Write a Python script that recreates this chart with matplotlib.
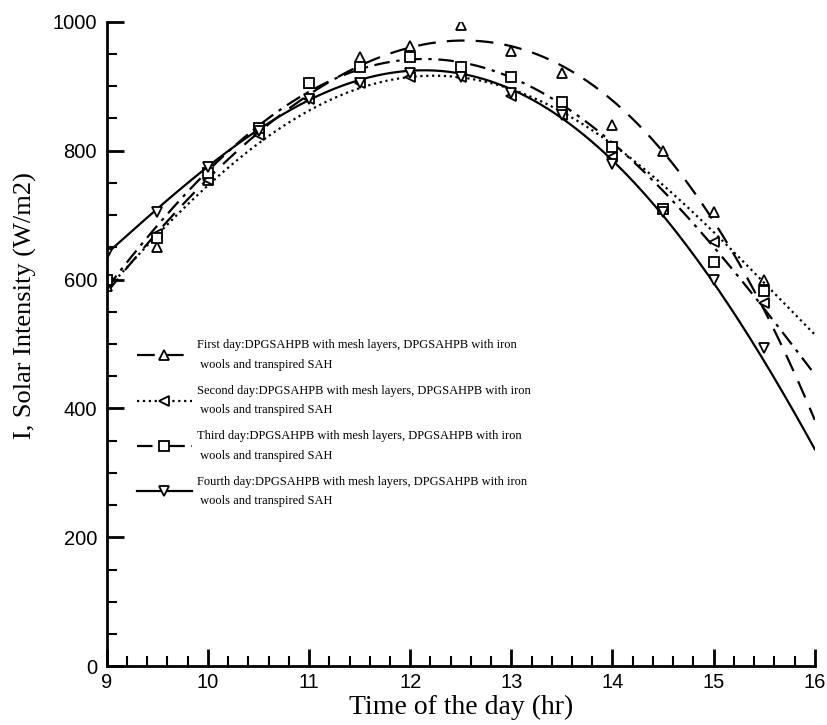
import numpy as np
import matplotlib
matplotlib.use('Agg')
import matplotlib.pyplot as plt

# hours of the day where readings were taken
hours = [9, 9.5, 10, 10.5, 11, 11.5, 12, 12.5, 13, 13.5, 14, 14.5, 15, 15.5]

day1 = [590, 650, 755, 830, 905, 945, 962, 995, 955, 920, 840, 800, 705, 600]
day2 = [600, 670, 755, 825, 880, 905, 915, 915, 885, 855, 790, 710, 658, 563]
day3 = [600, 665, 765, 835, 905, 930, 945, 930, 915, 875, 805, 710, 627, 582]
day4 = [640, 705, 775, 830, 880, 905, 920, 915, 890, 855, 780, 705, 599, 494]

# trend curves of the figure, read every half hour from 9 to 16 h
curve_hours = [9, 9.5, 10, 10.5, 11, 11.5, 12, 12.5, 13, 13.5, 14, 14.5, 15, 15.5, 16]
curve1 = [585, 665, 755, 830, 890, 935, 960, 970, 960, 932, 873, 800, 690, 560, 378]
curve2 = [590, 660, 745, 815, 865, 900, 912, 912, 895, 860, 810, 745, 670, 605, 510]
curve3 = [590, 680, 765, 840, 895, 930, 940, 935, 912, 870, 815, 735, 650, 560, 450]
curve4 = [640, 710, 775, 835, 880, 910, 920, 915, 895, 855, 790, 700, 590, 470, 340]

tail = " with mesh layers, DPGSAHPB with iron\n wools and transpired SAH"
labels = ["First day:DPGSAHPB" + tail,
          "Second day:DPGSAHPB" + tail,
          "Third day:DPGSAHPB" + tail,
          "Fourth day:DPGSAHPB" + tail]

styles = [((0, (8, 5)), '^'),
          (':', '<'),
          ((0, (7, 3, 1.5, 3)), 's'),
          ('-', 'v')]

fig = plt.figure(figsize=(8.28, 7.25), dpi=100)
ax = fig.add_axes([0.129, 0.081, 0.855, 0.889])

xs = np.linspace(9, 16, 200)
for y, c, lab, (ls, mk) in zip([day1, day2, day3, day4],
                               [curve1, curve2, curve3, curve4], labels, styles):
    # smooth the read-off curve with a 4th order polynomial
    coef = np.polyfit(curve_hours, c, 4)
    ax.plot(xs, np.polyval(coef, xs), color='black', ls=ls, lw=1.6)
    ax.plot(hours, y, ls='none', marker=mk, ms=7.5, mfc='white', mec='black', mew=1.3)
    ax.plot([], [], color='black', ls=ls, lw=1.6, marker=mk, ms=7.5,
            mfc='white', mec='black', mew=1.3, label=lab)

ax.set_xlim(9, 16)
ax.set_ylim(0, 1000)
ax.set_xticks(range(9, 17))
ax.set_xticks(np.arange(9, 16.01, 0.2), minor=True)
ax.set_yticks([0, 200, 400, 600, 800, 1000])
ax.set_yticks(range(0, 1001, 50), minor=True)

for s in ['top', 'right']:
    ax.spines[s].set_visible(False)
for s in ['left', 'bottom']:
    ax.spines[s].set_linewidth(2)

ax.tick_params(which='major', direction='in', length=12, width=2,
               labelsize=14.5)
ax.tick_params(axis='y', pad=7)
ax.tick_params(axis='x', pad=5)
ax.tick_params(which='minor', direction='in', length=7, width=1.5)
for t in ax.get_xticklabels() + ax.get_yticklabels():
    t.set_family('Liberation Sans')

ax.set_xlabel('Time of the day (hr)', family='Liberation Serif', fontsize=20, labelpad=2)
ax.set_ylabel('I, Solar Intensity (W/m2)', family='Liberation Serif', fontsize=19)
ax.yaxis.set_label_coords(-0.099, 0.559)

leg = ax.legend(loc='upper left', bbox_to_anchor=(0.035, 0.515), frameon=False,
                prop={'family': 'Liberation Serif', 'size': 9}, handlelength=4.4,
                labelspacing=1.1, handletextpad=0.4, borderaxespad=0)
for t in leg.get_texts():
    t.set_linespacing(1.85)

fig.savefig('out.png', dpi=100)
